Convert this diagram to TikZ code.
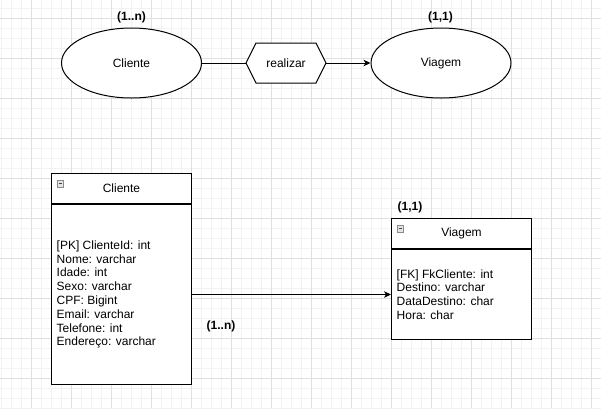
\documentclass[tikz,border=0pt]{standalone}
\usepackage{fontspec}
\setmainfont{Liberation Sans}
\usetikzlibrary{shapes.geometric,arrows.meta}
\definecolor{gridminor}{HTML}{F2F2F2}
\definecolor{gridmajor}{HTML}{E0E0E0}
\definecolor{iconfill}{HTML}{E4E4E4}
\definecolor{iconline}{HTML}{8A8A8A}
\definecolor{icondash}{HTML}{404040}
\begin{document}
\begin{tikzpicture}[x=1pt,y=-1pt,
  font=\fontsize{12}{13.8}\selectfont,
  minorline/.style={gridminor,line width=1pt},
  majorline/.style={gridmajor,line width=1pt},
  entity/.style={ellipse,draw,fill=white,line width=1pt,minimum width=140pt,minimum height=70pt,inner sep=0pt},
  relbox/.style={minimum width=80pt,minimum height=40pt,inner sep=0pt},
  hexline/.style={draw,fill=white,line width=1pt},
  card/.style={font=\bfseries\fontsize{12}{14}\selectfont,inner sep=0pt},
  thead/.style={draw,fill=white,line width=1pt,minimum width=140pt,minimum height=30pt,inner sep=0pt},
  tbody/.style={draw,fill=white,line width=1pt,minimum width=140pt,inner sep=0pt},
  attrs/.style={anchor=west,align=left,inner sep=0pt},
  iconbox/.style={draw=iconline,fill=iconfill,line width=0.8pt},
  icondashline/.style={draw=icondash,line width=1pt},
  conn/.style={draw,line width=1pt},
  arr/.style={conn,-{Stealth[length=7pt,width=6.5pt,inset=2pt]}}
]
\useasboundingbox (0,0) rectangle (601,408);
\fill[white] (0,0) rectangle (601,408);
% grid
\foreach \x in {1,11,...,601} \draw[minorline] (\x,0) -- (\x,408);
\foreach \y in {8,18,...,408} \draw[minorline] (0,\y) -- (601,\y);
\foreach \x in {31,71,...,591} \draw[majorline] (\x,0) -- (\x,408);
\foreach \y in {18,58,...,378} \draw[majorline] (0,\y) -- (601,\y);

% top ER part
\node[entity] (ecli) at (131.5,63) {Cliente};
\node[entity] (evia) at (441,63) {Viagem};
\draw[hexline] (246,63) -- (256,43) -- (316,43) -- (326,63) -- (316,83) -- (256,83) -- cycle;
\node[relbox] (rel) at (286,63) {realizar};
\draw[conn] (ecli.east) -- (rel.west);
\draw[arr] (rel.east) -- (evia.west);
\node[card] (c1) at (131.5,17) {(1..n)};
\node[card] (c2) at (440.5,17) {(1,1)};

% tables
\node[thead] (hcli) at (121.5,188.5) {Cliente};
\node[tbody,minimum height=180pt,anchor=north] (bcli) at (hcli.south) {};
\node[attrs] (acli) at ([xshift=5.5pt]bcli.west) {[PK] ClienteId: int\\Nome: varchar\\Idade: int\\Sexo: varchar\\CPF: Bigint\\Email: varchar\\Telefone: int\\Endereço: varchar};

\node[thead] (hvia) at (461.5,233.5) {Viagem};
\node[tbody,minimum height=90pt,anchor=north] (bvia) at (hvia.south) {};
\node[attrs] (avia) at ([xshift=5.5pt]bvia.west) {[FK] FkCliente: int\\Destino: varchar\\DataDestino: char\\Hora: char};

% collapse icons
\draw[iconbox] (57,180.5) rectangle (63.5,187);
\draw[icondashline] (58.5,183.75) -- (62,183.75);
\draw[iconbox] (397,225.5) rectangle (403.5,232);
\draw[icondashline] (398.5,228.75) -- (402,228.75);

\draw[arr] (bcli.east) -- (bvia.west);
\node[card] (c3) at (221,326) {(1..n)};
\node[card] (c4) at (410,207.5) {(1,1)};
\end{tikzpicture}
\end{document}
